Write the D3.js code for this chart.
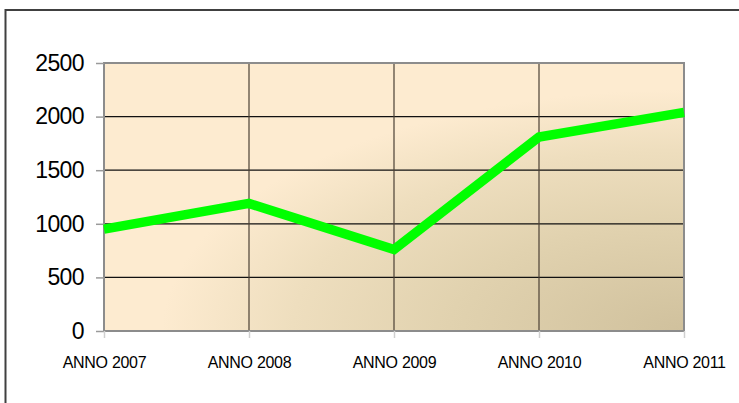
<!DOCTYPE html>
<html><head><meta charset="utf-8">
<script src="https://cdn.jsdelivr.net/npm/d3@7/dist/d3.min.js"></script>
<style>html,body{margin:0;padding:0;background:#fff;}svg{display:block;}</style>
</head><body>
<script>
const categories = ["ANNO 2007","ANNO 2008","ANNO 2009","ANNO 2010","ANNO 2011"];
const values = [950, 1190, 760, 1810, 2040];
const yTicks = [0, 500, 1000, 1500, 2000, 2500];

const W = 739, H = 403;
const m = {left:104, top:63, right:684, bottom:331};
const svg = d3.select("body").append("svg").attr("width", W).attr("height", H);

const defs = svg.append("defs");
const grad = defs.append("radialGradient").attr("id","bg")
  .attr("cx",1).attr("cy",1).attr("r",0.9).attr("fx",1).attr("fy",1);
[[0,"#d0c19d"],[0.45,"#e1d2af"],[0.75,"#eedebe"],[1,"#fdebd0"]].forEach(s=>
  grad.append("stop").attr("offset",s[0]).attr("stop-color",s[1]));

// outer border
svg.append("rect").attr("x",5.5).attr("y",10).attr("width",760).attr("height",420)
  .attr("fill","none").attr("stroke","#404040").attr("stroke-width",2);

const x = d3.scalePoint().domain(categories).range([m.left, m.right]);
const y = d3.scaleLinear().domain([0,2500]).range([m.bottom, m.top]);

svg.append("rect").attr("x",m.left).attr("y",m.top)
  .attr("width",m.right-m.left).attr("height",m.bottom-m.top).attr("fill","url(#bg)");

// horizontal gridlines
svg.append("g").selectAll("line").data(yTicks.filter(d=>d>0 && d<2500)).join("line")
  .attr("x1",m.left).attr("x2",m.right).attr("y1",d=>y(d)).attr("y2",d=>y(d))
  .attr("stroke","#111").attr("stroke-width",1.3);
// vertical gridlines
svg.append("g").selectAll("line").data(categories.slice(1,-1)).join("line")
  .attr("x1",d=>x(d)).attr("x2",d=>x(d)).attr("y1",m.top).attr("y2",m.bottom)
  .attr("stroke","#4b4034").attr("stroke-width",1.2);

// plot border
svg.append("rect").attr("x",m.left).attr("y",m.top)
  .attr("width",m.right-m.left).attr("height",m.bottom-m.top)
  .attr("fill","none").attr("stroke","#8c8c8c").attr("stroke-width",2);

// y axis
const yAxis = svg.append("g").attr("transform",`translate(${m.left},0)`)
  .call(d3.axisLeft(y).tickValues(yTicks).tickSize(8).tickPadding(12).tickFormat(d3.format("d")));
yAxis.select(".domain").remove();
yAxis.selectAll(".tick line").attr("stroke","#9a9a9a").attr("stroke-width",1.5);
yAxis.selectAll(".tick text").attr("font-family","'Liberation Sans', Arial, sans-serif")
  .attr("font-size",23).attr("fill","#000").attr("letter-spacing","-0.6");

// x axis
const xAxis = svg.append("g").attr("transform",`translate(0,${m.bottom})`)
  .call(d3.axisBottom(x).tickSize(7).tickPadding(19));
xAxis.select(".domain").remove();
xAxis.selectAll(".tick line").attr("stroke","#d0d0d0").attr("stroke-width",1.5);
xAxis.selectAll(".tick text").attr("font-family","'Liberation Sans', Arial, sans-serif")
  .attr("font-size",16).attr("fill","#000").attr("letter-spacing","-0.3");

// line
svg.append("path").datum(values)
  .attr("d", d3.line().x((d,i)=>x(categories[i])).y(d=>y(d)))
  .attr("fill","none").attr("stroke","#00ff00").attr("stroke-width",9.5)
  .attr("stroke-linejoin","miter").attr("stroke-linecap","butt");
</script>
</body></html>
